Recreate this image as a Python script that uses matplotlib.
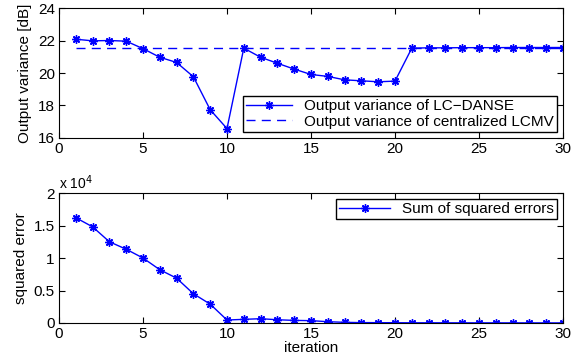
import numpy as np
import matplotlib.pyplot as plt
from matplotlib.ticker import FuncFormatter

plt.rcParams['font.family'] = ['Liberation Sans', 'DejaVu Sans']
plt.rcParams['font.size'] = 11

iters = list(range(1, 31))
var_lcdanse = [22.08, 21.98, 22.0, 21.96, 21.5, 20.97, 20.65, 19.77, 17.74, 16.58,
               21.53, 20.97, 20.6, 20.24, 19.91, 19.79, 19.58, 19.52, 19.46, 19.5,
               21.53, 21.55, 21.55, 21.56, 21.56, 21.56, 21.57, 21.57, 21.57, 21.57]
var_central = 21.53
sq_err = [16200, 14800, 12500, 11350, 10000, 8200, 6900, 4500, 2900, 460,
          560, 660, 500, 400, 360, 200, 100, 60, 50, 40,
          30, 30, 25, 25, 20, 20, 20, 15, 15, 15]

blue = '#0000ff'
star = (8, 2, 0)  # asterisk like matlab '*'
fig = plt.figure(figsize=(5.8, 3.6), dpi=100)
ax1 = fig.add_axes([0.1017, 0.6167, 0.869, 0.361])
ax2 = fig.add_axes([0.1017, 0.1028, 0.869, 0.361])

ax1.plot(iters, var_lcdanse, '-', marker=star, color=blue, lw=1, ms=6, mew=1,
         label='Output variance of LC\u2212DANSE')
ax1.plot([1, 30], [var_central, var_central], '--', color=blue, lw=1,
         dashes=(6.5, 4.5), label='Output variance of centralized LCMV')
ax1.set_xlim(0, 30)
ax1.set_ylim(16, 24)
ax1.set_yticks([16, 18, 20, 22, 24])
ax1.set_xticks([0, 5, 10, 15, 20, 25, 30])
ax1.set_ylabel('Output variance [dB]')
ax1.legend(loc='lower right', fancybox=False, edgecolor='black', framealpha=1,
           borderpad=0.2, labelspacing=0.1, handlelength=3, borderaxespad=0.4)

ax2.plot(iters, sq_err, '-', marker=star, color=blue, lw=1, ms=6, mew=1,
         label='Sum of squared errors')
ax2.set_xlim(0, 30)
ax2.set_ylim(0, 20000)
ax2.set_yticks([0, 5000, 10000, 15000, 20000])
ax2.set_xticks([0, 5, 10, 15, 20, 25, 30])
ax2.yaxis.set_major_formatter(FuncFormatter(lambda v, p: '%g' % (v / 1e4)))
ax2.text(0.0, 1.03, r'x 10$^4$', transform=ax2.transAxes, fontsize=10)
ax2.set_ylabel('squared error')
ax2.set_xlabel('iteration', labelpad=0)
ax2.legend(loc='upper right', fancybox=False, edgecolor='black', framealpha=1,
           borderpad=0.2, handlelength=3.3, borderaxespad=0.4)

for ax in (ax1, ax2):
    ax.tick_params(direction='in', top=True, right=True, length=4, pad=3)
    for s in ax.spines.values():
        s.set_linewidth(0.8)

fig.savefig('out.png', dpi=100)
